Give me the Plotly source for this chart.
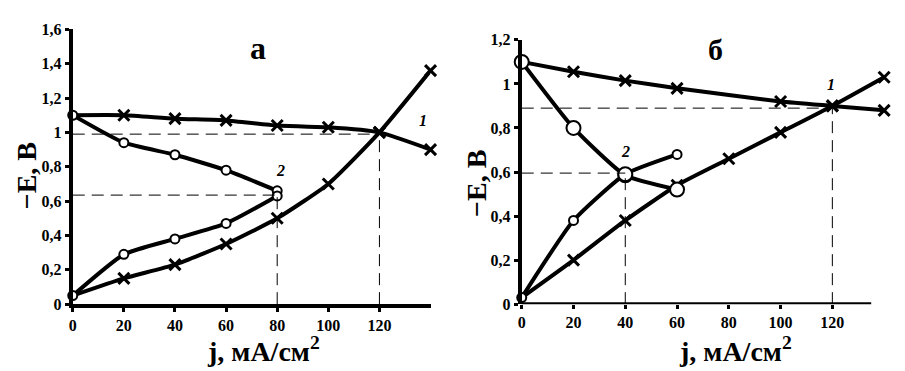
import plotly.graph_objects as go

# ---------------- data ----------------
# panel "а"
a_j1 = [0, 20, 40, 60, 80, 100, 120, 140]
a_E1_desc = [1.10, 1.10, 1.08, 1.07, 1.04, 1.03, 1.00, 0.90]
a_E1_asc = [0.05, 0.15, 0.23, 0.35, 0.50, 0.70, 1.00, 1.36]
a_j2 = [0, 20, 40, 60, 80]
a_E2_desc = [1.10, 0.94, 0.87, 0.78, 0.66]
a_E2_asc = [0.05, 0.29, 0.38, 0.47, 0.63]
a_ref = [(120, 0.99), (80, 0.635)]

# panel "б"
b_j1_desc = [0, 20, 40, 60, 100, 120, 140]
b_E1_desc = [1.10, 1.055, 1.015, 0.98, 0.92, 0.90, 0.88]
b_j1_asc = [0, 20, 40, 60, 80, 100, 120, 140]
b_E1_asc = [0.03, 0.20, 0.38, 0.54, 0.66, 0.78, 0.90, 1.03]
b_j2 = [0, 20, 40, 60]
b_E2_desc = [1.10, 0.80, 0.585, 0.52]
b_E2_asc = [0.03, 0.38, 0.59, 0.68]
b_ref = [(120, 0.89), (40, 0.595)]

x_ticks = [0, 20, 40, 60, 80, 100, 120]
x_ticktext = ["0", "20", "40", "60", "80", "100", "120"]
a_y_ticks = [0, 0.2, 0.4, 0.6, 0.8, 1.0, 1.2, 1.4, 1.6]
a_y_ticktext = ["0", "0,2", "0,4", "0,6", "0,8", "1", "1,2", "1,4", "1,6"]
b_y_ticks = [0, 0.2, 0.4, 0.6, 0.8, 1.0, 1.2]
b_y_ticktext = ["0", "0,2", "0,4", "0,6", "0,8", "1", "1,2"]

x_title = "<b>j, мА/см<sup>2</sup></b>"
y_title = "<b>−E, В</b>"

# ---------------- styling ----------------
FONT = "Liberation Serif, Times New Roman, serif"
W, H = 905, 371
LW = 4
CROSS = 11
SMALL = 9
LARGE = 14


def cross_trace(x, y, xa, ya):
    sizes = [0] + [CROSS] * (len(x) - 1)
    return go.Scatter(
        x=x, y=y, xaxis=xa, yaxis=ya, mode="lines+markers",
        line=dict(color="black", width=LW, shape="spline", smoothing=0.5),
        marker=dict(symbol="x-thin", size=sizes, color="black", opacity=1,
                    line=dict(color="black", width=3)),
        cliponaxis=False, showlegend=False, hoverinfo="x+y")


def circle_trace(x, y, xa, ya, sizes):
    return go.Scatter(
        x=x, y=y, xaxis=xa, yaxis=ya, mode="lines+markers",
        line=dict(color="black", width=LW, shape="spline", smoothing=0.5),
        marker=dict(symbol="circle", size=sizes, color="#ffffff", opacity=1,
                    line=dict(color="black", width=2)),
        cliponaxis=False, showlegend=False, hoverinfo="x+y")


fig = go.Figure()
fig.add_trace(cross_trace(a_j1, a_E1_desc, "x", "y"))
fig.add_trace(cross_trace(a_j1, a_E1_asc, "x", "y"))
fig.add_trace(circle_trace(a_j2, a_E2_desc, "x", "y", [SMALL] * len(a_j2)))
fig.add_trace(circle_trace(a_j2, a_E2_asc, "x", "y", [SMALL] * len(a_j2)))

fig.add_trace(cross_trace(b_j1_desc, b_E1_desc, "x2", "y2"))
fig.add_trace(cross_trace(b_j1_asc, b_E1_asc, "x2", "y2"))
fig.add_trace(circle_trace(b_j2, b_E2_desc, "x2", "y2", [LARGE] * len(b_j2)))
fig.add_trace(circle_trace(b_j2, b_E2_asc, "x2", "y2", [SMALL, SMALL, LARGE, SMALL]))

shapes = []
for (xr, yr), (xa, ya) in [(r, ("x", "y")) for r in a_ref] + [(r, ("x2", "y2")) for r in b_ref]:
    shapes.append(dict(type="line", xref=xa, yref=ya, x0=0, x1=xr, y0=yr, y1=yr,
                       line=dict(color="black", width=1, dash="12px,7px")))
    shapes.append(dict(type="line", xref=xa, yref=ya, x0=xr, x1=xr, y0=0, y1=yr,
                       line=dict(color="black", width=1, dash="12px,7px")))
# x axis line of panel б (shorter than the data extent)
shapes.append(dict(type="line", xref="x2", yref="y2", x0=-1.5, x1=135, y0=0, y1=0,
                   line=dict(color="black", width=LW), layer="below"))


def px_x(p):
    return p / W


def px_y(p):
    return 1 - p / H


tickfont = dict(family=FONT, size=16, color="black")
common_x = dict(showgrid=False, zeroline=False, ticks="outside", ticklen=4,
                tickwidth=3, tickcolor="black", tickvals=x_ticks,
                ticktext=["<b>%s</b>" % t for t in x_ticktext], tickfont=tickfont,
                fixedrange=True)
common_y = dict(showgrid=False, zeroline=False, ticks="outside", ticklen=4,
                tickwidth=3, tickcolor="black", tickfont=tickfont,
                showline=True, linewidth=LW, linecolor="black", fixedrange=True)

fig.update_layout(
    width=W, height=H, autosize=False,
    margin=dict(l=0, r=0, t=0, b=0),
    paper_bgcolor="white", plot_bgcolor="white",
    font=dict(family=FONT, color="black"),
    shapes=shapes,
    xaxis=dict(**common_x, domain=[px_x(61), px_x(420.4)], range=[0, 140],
               showline=True, linewidth=LW, linecolor="black", anchor="y"),
    yaxis=dict(**common_y, domain=[px_y(302), px_y(14)], range=[0, 1.6],
               tickvals=a_y_ticks, ticktext=["<b>%s</b>" % t for t in a_y_ticktext],
               anchor="x"),
    xaxis2=dict(**common_x, domain=[px_x(512), px_x(878.6)], range=[0, 141],
                showline=False, anchor="y2"),
    yaxis2=dict(**common_y, domain=[px_y(302), px_y(25)], range=[0, 1.2],
                tickvals=b_y_ticks, ticktext=["<b>%s</b>" % t for t in b_y_ticktext],
                anchor="x2"),
)

big = dict(family=FONT, size=28, color="black")
ann = [
    dict(text=y_title, x=px_x(14), y=px_y(167), textangle=-90, font=big),
    dict(text=y_title, x=px_x(467), y=px_y(175), textangle=-90, font=big),
    dict(text=x_title, x=px_x(253), y=px_y(350), font=big),
    dict(text=x_title, x=px_x(727), y=px_y(350), font=big),
    dict(text="<b>а</b>", x=px_x(247), y=px_y(34), font=dict(family=FONT, size=32, color="black")),
    dict(text="<b>б</b>", x=px_x(707), y=px_y(35), font=dict(family=FONT, size=30, color="black")),
]
for a in ann:
    a.update(xref="paper", yref="paper", showarrow=False, xanchor="center", yanchor="middle")
lab = dict(family=FONT, size=16, color="black")
ann += [
    dict(text="<b><i>1</i></b>", x=137, y=1.067, xref="x", yref="y", showarrow=False, font=lab),
    dict(text="<b><i>2</i></b>", x=81.4, y=0.78, xref="x", yref="y", showarrow=False, font=lab),
    dict(text="<b><i>1</i></b>", x=119.6, y=0.997, xref="x2", yref="y2", showarrow=False, font=lab),
    dict(text="<b><i>2</i></b>", x=40, y=0.693, xref="x2", yref="y2", showarrow=False, font=lab),
]
fig.update_layout(annotations=ann)

fig.write_html("out.html")
